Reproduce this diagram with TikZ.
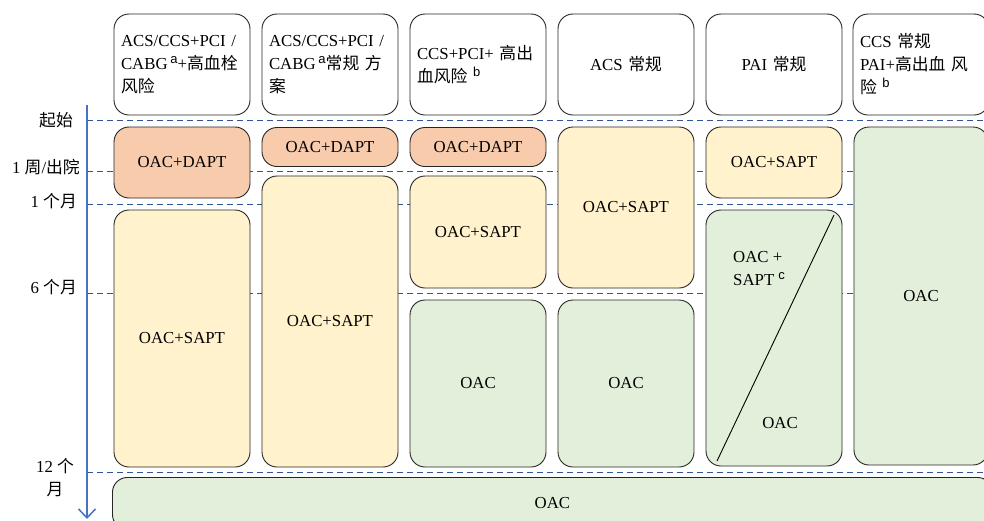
\documentclass[tikz,border=0pt]{standalone}
\usepackage{fontspec}
\setmainfont{Liberation Serif}
\setsansfont{Liberation Sans}
\newfontfamily\cjk{Noto Sans CJK SC}
\usetikzlibrary{arrows.meta}
\definecolor{camDAPT}{HTML}{F8CBAD}
\definecolor{vangSAPT}{HTML}{FFF2CC}
\definecolor{xanhOAC}{HTML}{E2EFDA}
\definecolor{mocTG}{HTML}{2F5597}
\definecolor{trucTG}{HTML}{4472C4}
\newcommand{\zh}[1]{{\cjk #1}}
\newcommand{\chiso}[1]{\raisebox{6pt}{\fontsize{13}{13}\sffamily #1}}
\begin{document}
\begin{tikzpicture}[x=1pt,y=-1pt,
	every node/.style={font=\fontsize{16.8}{23}\selectfont,inner sep=0pt},
	hop/.style={draw=black!85,line width=0.9pt,rounded corners=15pt,minimum width=136pt},
	tieude/.style={hop,fill=white,minimum height=101pt,inner xsep=7pt,text width=122pt},
	nhip/.style={draw=mocTG,line width=1pt,dash pattern=on 6pt off 4pt},
	moc/.style={anchor=east,align=center}]
	\useasboundingbox (0,0) rectangle (984,520);
	\clip (0,0) rectangle (984,520);
	%Duong moc thoi gian
	\foreach \y in {120,171,204,293,472}
		\draw[nhip] (87,\y) -- (984,\y);
	%Truc thoi gian
	\draw[trucTG,line width=1.8pt,-{Straight Barb[length=9pt,width=17pt,line width=1.5pt]}] (87,105) -- (87,519);
	\node[moc] (m0) at (73,120) {\zh{起始}};
	\node[moc] (m1) at (80,167) {1 \zh{周}/\zh{出院}};
	\node[moc] (m2) at (77,201) {1 \zh{个月}};
	\node[moc] (m3) at (77,287) {6 \zh{个月}};
	\node[align=center] (m4) at (55,478) {12 \zh{个}\\\zh{月}};
	%Khung tieu de
	\node[tieude,align=left] (h1) at (182,64.5) {ACS/CCS+PCI /\\CABG\,\chiso{a}+\zh{高血栓}\\\zh{风险}};
	\node[tieude,align=left] (h2) at (330,64.5) {ACS/CCS+PCI /\\CABG\,\chiso{a}\zh{常规 方}\\\zh{案}};
	\node[tieude,align=left] (h3) at (478,64.5) {CCS+PCI+ \zh{高出}\\\zh{血风险} \chiso{b}};
	\node[tieude,align=center] (h4) at (626,64.5) {ACS \zh{常规}};
	\node[tieude,align=center] (h5) at (774,64.5) {PAI \zh{常规}};
	\node[tieude,align=left] (h6) at (921,64.5) {CCS \zh{常规}\\PAI+\zh{高出血 风}\\\zh{险} \chiso{b}};
	%Cot 1
	\node[hop,fill=camDAPT,minimum height=71pt] (d1) at (182,162.5) {OAC+DAPT};
	\node[hop,fill=vangSAPT,minimum height=257pt] (s1) at (182,338.5) {OAC+SAPT};
	%Cot 2
	\node[hop,fill=camDAPT,minimum height=39pt] (d2) at (330,147) {OAC+DAPT};
	\node[hop,fill=vangSAPT,minimum height=291pt] (s2) at (330,321.5) {OAC+SAPT};
	%Cot 3
	\node[hop,fill=camDAPT,minimum height=39pt] (d3) at (478,147) {OAC+DAPT};
	\node[hop,fill=vangSAPT,minimum height=112pt] (s3) at (478,232) {OAC+SAPT};
	\node[hop,fill=xanhOAC,minimum height=167pt] (o3) at (478,383.5) {OAC};
	%Cot 4
	\node[hop,fill=vangSAPT,minimum height=161pt] (s4) at (626,207.5) {OAC+SAPT};
	\node[hop,fill=xanhOAC,minimum height=167pt] (o4) at (626,383.5) {OAC};
	%Cot 5
	\node[hop,fill=vangSAPT,minimum height=71pt] (s5) at (774,162.5) {OAC+SAPT};
	\node[hop,fill=xanhOAC,minimum height=256pt] (o5) at (774,338) {};
	\coordinate (cheoA) at (834,215);
	\coordinate (cheoB) at (717,461);
	\draw[line width=0.9pt] (cheoA) -- (cheoB);
	\node[anchor=west,align=left] (t5) at (733,269) {OAC +\\SAPT \chiso{c}};
	\node (t6) at (780,423) {OAC};
	%Cot 6
	\node[hop,fill=xanhOAC,minimum width=134pt,minimum height=338pt] (o6) at (921,296) {OAC};
	%Khung duoi
	\node[hop,fill=xanhOAC,anchor=north west,minimum width=880pt,minimum height=52pt] (oall) at (112,477) {OAC};
\end{tikzpicture}
\end{document}
